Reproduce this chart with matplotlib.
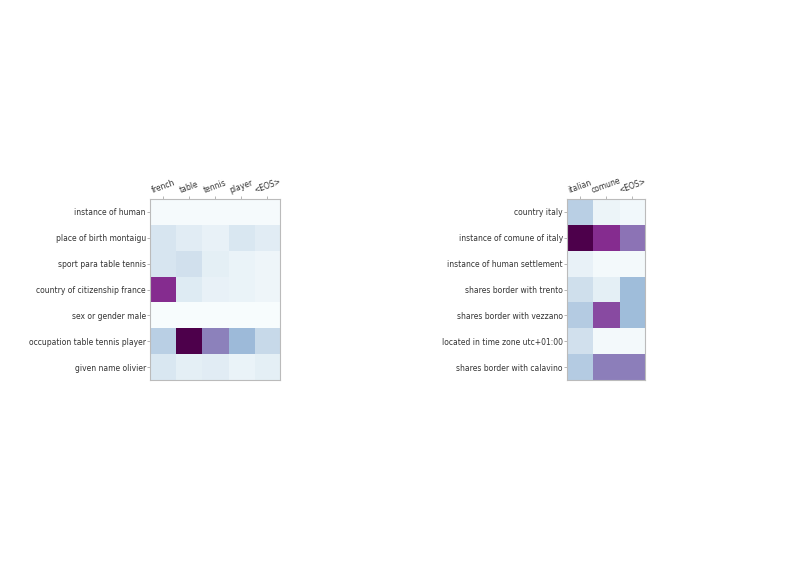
import numpy as np
import matplotlib
matplotlib.use("Agg")
import matplotlib.pyplot as plt

left_cols = ["french", "table", "tennis", "player", "<EOS>"]
left_rows = ["instance of human", "place of birth montaigu", "sport para table tennis",
             "country of citizenship france", "sex or gender male",
             "occupation table tennis player", "given name olivier"]
left_vals = [
    [0.01, 0.01, 0.01, 0.01, 0.01],
    [0.16, 0.12, 0.08, 0.15, 0.12],
    [0.16, 0.18, 0.10, 0.07, 0.05],
    [0.80, 0.13, 0.08, 0.07, 0.05],
    [0.00, 0.00, 0.00, 0.00, 0.00],
    [0.27, 1.00, 0.56, 0.38, 0.22],
    [0.15, 0.10, 0.12, 0.07, 0.10],
]

right_cols = ["italian", "comune", "<EOS>"]
right_rows = ["country italy", "instance of comune of italy", "instance of human settlement",
              "shares border with trento", "shares border with vezzano",
              "located in time zone utc+01:00", "shares border with calavino"]
right_vals = [
    [0.27, 0.06, 0.03],
    [1.00, 0.80, 0.60],
    [0.08, 0.02, 0.02],
    [0.19, 0.10, 0.37],
    [0.29, 0.72, 0.37],
    [0.18, 0.02, 0.02],
    [0.29, 0.57, 0.57],
]

W, H = 812, 577
fig = plt.figure(figsize=(W / 100, H / 100), dpi=100)

def draw(rect, vals, cols, rows):
    ax = fig.add_axes(rect)
    ax.imshow(np.array(vals), cmap="BuPu", vmin=0, vmax=1, aspect="auto",
              interpolation="nearest")
    ax.xaxis.tick_top()
    ax.set_xticks(range(len(cols)))
    ax.set_xticklabels(cols, rotation=20, fontsize=5.5, color="#333333", ha="center")
    ax.set_yticks(range(len(rows)))
    ax.set_yticklabels(rows, fontsize=5.5, color="#333333")
    ax.tick_params(length=2, width=0.5, color="#999999", pad=1)
    for s in ax.spines.values():
        s.set_color("#bbbbbb")
        s.set_linewidth(0.8)
    return ax

draw([150 / W, (H - 380) / H, 130 / W, 181 / H], left_vals, left_cols, left_rows)
draw([567 / W, (H - 380) / H, 78 / W, 181 / H], right_vals, right_cols, right_rows)

fig.savefig("out.png", dpi=100)
